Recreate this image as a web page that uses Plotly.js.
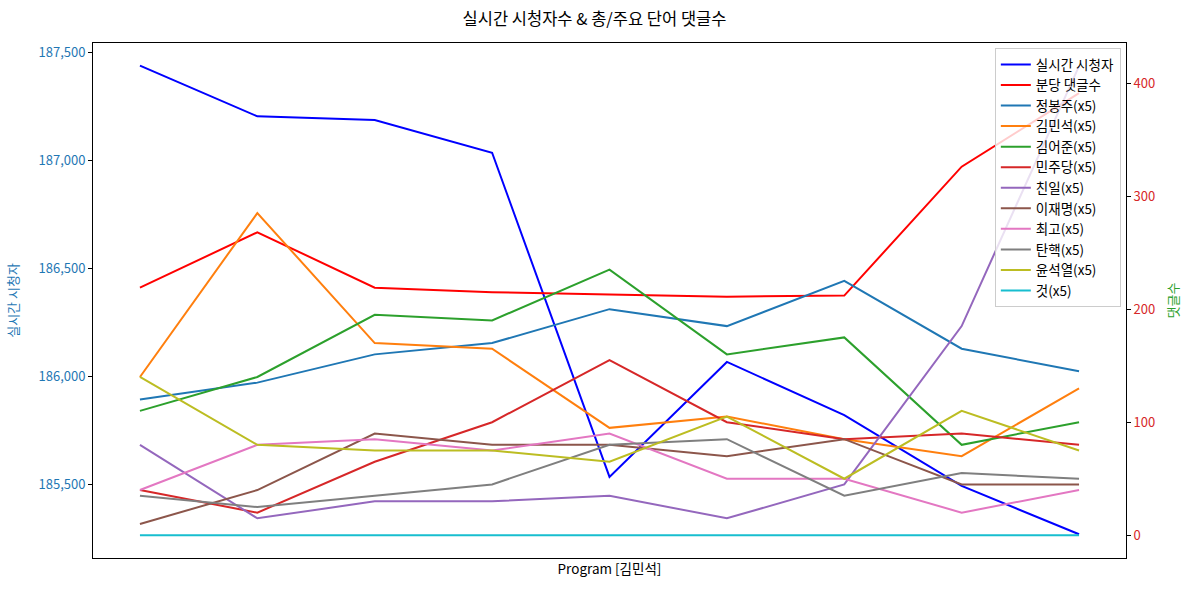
<!DOCTYPE html>
<html>
<head>
<meta charset="utf-8">
<script src="https://cdn.plot.ly/plotly-3.0.1.min.js"></script>
<style>body{margin:0;background:#fff}#chart{width:1189px;height:592px}</style>
</head>
<body>
<div id="chart"></div>
<script>
const xIdx = [0, 1, 2, 3, 4, 5, 6, 7, 8];
const viewers = [187441, 187206, 187189, 187037, 185534, 186067, 185821, 185492, 185268];
const commentsPerMin = [219, 268, 219, 215, 213, 211, 212, 326, 391];
const wordNames = ["정봉주(x5)", "김민석(x5)", "김어준(x5)", "민주당(x5)", "친일(x5)", "이재명(x5)", "최고(x5)", "탄핵(x5)", "윤석열(x5)", "것(x5)"];
const w_jbj = [120, 135, 160, 170, 200, 185, 225, 165, 145];
const w_kms = [140, 285, 170, 165, 95, 105, 85, 70, 130];
const w_kej = [110, 140, 195, 190, 235, 160, 175, 80, 100];
const w_mjd = [40, 20, 65, 100, 155, 100, 85, 90, 80];
const w_chinil = [80, 15, 30, 30, 35, 15, 45, 185, 415];
const w_ljm = [10, 40, 90, 80, 80, 70, 85, 45, 45];
const w_best = [40, 80, 85, 75, 90, 50, 50, 20, 40];
const w_impeach = [35, 25, 35, 45, 80, 85, 35, 55, 50];
const w_ysy = [140, 80, 75, 75, 65, 105, 50, 110, 75];
const w_geot = [0, 0, 0, 0, 0, 0, 0, 0, 0];
const wordSeries = [w_jbj, w_kms, w_kej, w_mjd, w_chinil, w_ljm, w_best, w_impeach, w_ysy, w_geot];
const wordColors = ["#1f77b4", "#ff7f0e", "#2ca02c", "#d62728", "#9467bd", "#8c564b", "#e377c2", "#7f7f7f", "#bcbd22", "#17becf"];
const leftTicks = [185500, 186000, 186500, 187000, 187500];
const rightTicks = [0, 100, 200, 300, 400];

const FONT = "Noto Sans CJK KR, Noto Sans, sans-serif";
const traces = [];
traces.push({x: xIdx, y: viewers, type: "scatter", mode: "lines", name: "실시간 시청자",
  line: {color: "#0000ff", width: 2}, yaxis: "y"});
traces.push({x: xIdx, y: commentsPerMin, type: "scatter", mode: "lines", name: "분당 댓글수",
  line: {color: "#ff0000", width: 2}, yaxis: "y2"});
wordSeries.forEach((s, i) => {
  traces.push({x: xIdx, y: s, type: "scatter", mode: "lines", name: wordNames[i],
    line: {color: wordColors[i], width: 2}, yaxis: "y2"});
});

const layout = {
  width: 1189, height: 592,
  margin: {l: 93, r: 63, t: 43, b: 34},
  paper_bgcolor: "#fff", plot_bgcolor: "#fff",
  font: {family: FONT, size: 12, color: "#000"},
  title: {text: "실시간 시청자수 & 총/주요 단어 댓글수", x: 0.5, xanchor: "center", y: 0.968, yanchor: "middle",
    font: {family: FONT, size: 16.5, color: "#000"}},
  showlegend: true,
  legend: {x: 0.995, xanchor: "right", y: 0.99, yanchor: "top",
    bgcolor: "rgba(255,255,255,0.8)", bordercolor: "#cccccc", borderwidth: 1,
    font: {family: FONT, size: 13.5, color: "#000"}, itemwidth: 30, tracegroupgap: 0},
  xaxis: {range: [-0.4, 8.4], showticklabels: false, ticks: "", showgrid: false, zeroline: false,
    showline: true, linecolor: "#000", linewidth: 1, mirror: true,
    title: {text: "Program [김민석]", font: {family: FONT, size: 13.5, color: "#000"}, standoff: 6}},
  yaxis: {range: [185158, 187546], tickvals: leftTicks, tickformat: ",d", showgrid: false, zeroline: false,
    ticks: "outside", ticklen: 4, tickcolor: "#000", showline: true, linecolor: "#000", linewidth: 1,
    tickfont: {family: FONT, size: 13, color: "#1f77b4"},
    title: {text: "실시간 시청자", font: {family: FONT, size: 13, color: "#1f77b4"}, standoff: 16}},
  yaxis2: {range: [-20.1, 435.4], tickvals: rightTicks, overlaying: "y", side: "right", showgrid: false, zeroline: false,
    ticks: "outside", ticklen: 4, tickcolor: "#000", showline: true, linecolor: "#000", linewidth: 1,
    tickfont: {family: FONT, size: 13, color: "#d62728"},
    title: {text: "댓글수", font: {family: FONT, size: 13, color: "#2ca02c"}, standoff: 14}}
};
Plotly.newPlot("chart", traces, layout, {displayModeBar: false, staticPlot: true});
</script>
</body>
</html>
